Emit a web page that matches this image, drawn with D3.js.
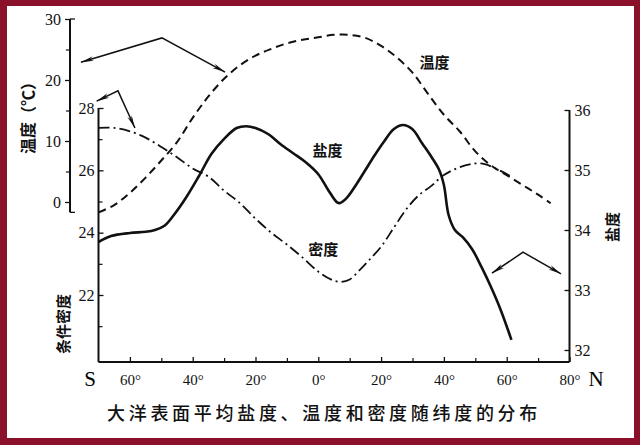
<!DOCTYPE html>
<html><head><meta charset="utf-8">
<script src="https://cdn.jsdelivr.net/npm/d3@7/dist/d3.min.js"></script>
<style>
html,body{margin:0;padding:0;background:#fff;}
svg{display:block;}
.tk text{font-family:"Liberation Serif","DejaVu Serif",serif;font-size:16px;fill:#111;}
.cjk{font-family:"Noto Sans CJK SC",sans-serif;fill:#111;}
</style></head>
<body>
<script>
// ---- data ----
const tempLat = [-70,-65,-60,-55,-50,-45,-40,-35,-30,-25,-20,-15,-10,-5,0,5,10,15,20,25,30,35,40,45,50,55,60,65,70,74];
const tempVal = [-1.7,-0.5,1.5,4.0,6.8,9.8,13.8,17.3,20.2,22.4,24.0,25.1,26.0,26.6,27.0,27.4,27.4,26.9,25.6,23.7,21.2,17.7,14.3,11.6,8.3,6.0,4.4,2.8,1.2,-0.2];

const salLat = [-70,-66,-60,-55,-52,-49,-46,-42,-38,-34,-30,-26,-23,-20,-16,-12,-8,-4,0,3,6,7,9,12,15,18,21,24,27,30,33,36,38.5,40,41.5,43.5,46,49,52,55,58,61.5];
const salVal = [33.8,33.9,33.95,33.97,34.0,34.07,34.25,34.55,34.9,35.27,35.52,35.7,35.73,35.7,35.6,35.43,35.28,35.13,34.93,34.68,34.46,34.45,34.53,34.75,35.0,35.25,35.48,35.68,35.75,35.68,35.45,35.22,35.0,34.75,34.25,34.0,33.88,33.68,33.38,33.05,32.68,32.17];

const denLat = [-70,-65,-60,-55,-50,-45,-40,-35,-30,-25,-20,-15,-10,-5,0,4,7,10,13,16,20,24,28,32,36,40,45,50,53,56,60,62];
const denVal = [27.36,27.36,27.25,27.05,26.75,26.42,26.06,25.8,25.35,24.95,24.45,24.0,23.62,23.2,22.75,22.5,22.42,22.5,22.78,23.1,23.55,24.15,24.75,25.2,25.5,25.85,26.1,26.22,26.2,26.08,25.88,25.75];

const xMajor = [-60,-40,-20,0,20,40,60,80];
const xMajorLabels = ["60°","40°","20°","0°","20°","40°","60°","80°"];
const xMinor = [-50,-30,-10,10,30,50,70];
const tempTicks = [0,10,20,30];
const tempMinor = [5,15,25];
const denTicks = [22,24,26,28];
const denMinor = [21,23,25,27];
const salTicks = [32,33,34,35,36];

const title = "大洋表面平均盐度、温度和密度随纬度的分布";
const tempTitle = "温度（℃）";
const denTitle = "条件密度";
const salTitle = "盐度";
const seriesNames = {temp:"温度", sal:"盐度", den:"密度"};

// annotation arrows (in data coordinates of their axes)
const arrowTemp = [[-75.6,22.9],[-49.8,26.9],[-29.7,21.3]];
const arrowDen = [[-70.6,28.22],[-63.8,28.55],[-58.4,27.36]];
const arrowSal = [[55.3,33.28],[65.2,33.63],[77.3,33.27]];

// ---- layout ----
const W = 640, H = 445;
const svg = d3.select("body").append("svg").attr("width",W).attr("height",H);
svg.append("rect").attr("width",W).attr("height",H).attr("fill","#8b1029");
svg.append("rect").attr("x",7).attr("y",6).attr("width",627).attr("height",432).attr("fill","#fff");

const x = d3.scaleLinear().domain([-70,80]).range([98.5,569.5]);
const yT = d3.scaleLinear().domain([0,30]).range([202,19]);
const yD = d3.scaleLinear().domain([22,28]).range([295,108]);
const yS = d3.scaleLinear().domain([32,36]).range([350,110]);
const baseY = 362;
const fmt = d3.format("d");

// defs: arrow marker
const defs = svg.append("defs");
defs.append("marker").attr("id","arr").attr("viewBox","-14 -3 15 6")
  .attr("refX",0).attr("refY",0).attr("markerWidth",15).attr("markerHeight",6)
  .attr("markerUnits","userSpaceOnUse").attr("orient","auto-start-reverse")
  .append("path").attr("d","M0,0 L-13,-2.4 L-9,0 L-13,2.4 Z").attr("fill","#111");

const g = svg.append("g");

// x axis
g.append("line").attr("x1",x(-70)).attr("x2",x(80)).attr("y1",baseY).attr("y2",baseY)
  .attr("stroke","#111").attr("stroke-width",2);
const xa = g.append("g").attr("class","tk").attr("transform",`translate(0,${baseY})`)
  .call(d3.axisBottom(x).tickValues(xMajor).tickSizeInner(-5).tickSizeOuter(0).tickPadding(9)
  .tickFormat((d,i)=>xMajorLabels[i]));
xa.select(".domain").remove();
xa.selectAll("line").attr("stroke","#111").attr("stroke-width",1.3);
xa.selectAll("text").attr("dy","0.9em").style("font-size","15px");
g.append("g").attr("transform",`translate(0,${baseY})`)
  .call(d3.axisBottom(x).tickValues(xMinor).tickSizeInner(-4).tickSizeOuter(0).tickFormat(""))
  .call(s=>{s.select(".domain").remove();s.selectAll("line").attr("stroke","#111").attr("stroke-width",1.2);});
g.append("text").attr("x",90).attr("y",386).attr("text-anchor","middle")
  .style("font-family","Liberation Serif, serif").style("font-size","21px").text("S");
g.append("text").attr("x",596).attr("y",386).attr("text-anchor","middle")
  .style("font-family","Liberation Serif, serif").style("font-size","21px").text("N");

// temperature axis (outer left)
const xT = 70;
g.append("line").attr("x1",xT).attr("x2",xT).attr("y1",yT(30)).attr("y2",yT(-1.7))
  .attr("stroke","#111").attr("stroke-width",2);
const ta = g.append("g").attr("class","tk").attr("transform",`translate(${xT},0)`)
  .call(d3.axisLeft(yT).tickValues(tempTicks).tickFormat(fmt).tickSizeInner(5).tickSizeOuter(0).tickPadding(4));
ta.select(".domain").remove();
ta.selectAll("line").attr("stroke","#111").attr("stroke-width",1.3);
g.append("g").attr("transform",`translate(${xT},0)`)
  .call(d3.axisLeft(yT).tickValues(tempMinor).tickSizeInner(4).tickSizeOuter(0).tickFormat(""))
  .call(s=>{s.select(".domain").remove();s.selectAll("line").attr("stroke","#111").attr("stroke-width",1.2);});
g.append("line").attr("x1",xT).attr("x2",xT+5).attr("y1",yT(30)).attr("y2",yT(30)).attr("stroke","#111").attr("stroke-width",1.3);
g.append("line").attr("x1",xT).attr("x2",xT+5).attr("y1",yT(-1.7)).attr("y2",yT(-1.7)).attr("stroke","#111").attr("stroke-width",1.3);

// density axis (inner left)
const xD = x(-70);
g.append("line").attr("x1",xD).attr("x2",xD).attr("y1",yD(28)).attr("y2",baseY)
  .attr("stroke","#111").attr("stroke-width",2);
const da = g.append("g").attr("class","tk").attr("transform",`translate(${xD},0)`)
  .call(d3.axisLeft(yD).tickValues(denTicks).tickFormat(fmt).tickSizeInner(-5).tickSizeOuter(0).tickPadding(4));
da.select(".domain").remove();
da.selectAll("line").attr("stroke","#111").attr("stroke-width",1.3);
g.append("g").attr("transform",`translate(${xD},0)`)
  .call(d3.axisLeft(yD).tickValues(denMinor).tickSizeInner(-4).tickSizeOuter(0).tickFormat(""))
  .call(s=>{s.select(".domain").remove();s.selectAll("line").attr("stroke","#111").attr("stroke-width",1.2);});

// salinity axis (right)
const xS = x(80);
g.append("line").attr("x1",xS).attr("x2",xS).attr("y1",yS(36)).attr("y2",baseY)
  .attr("stroke","#111").attr("stroke-width",2);
const sa = g.append("g").attr("class","tk").attr("transform",`translate(${xS},0)`)
  .call(d3.axisRight(yS).tickValues(salTicks).tickFormat(fmt).tickSizeInner(-5).tickSizeOuter(0).tickPadding(5));
sa.select(".domain").remove();
sa.selectAll("line").attr("stroke","#111").attr("stroke-width",1.3);

// curves
const lineT = d3.line().x((d,i)=>x(tempLat[i])).y(d=>yT(d)).curve(d3.curveCatmullRom);
const lineS = d3.line().x((d,i)=>x(salLat[i])).y(d=>yS(d)).curve(d3.curveCatmullRom);
const lineD = d3.line().x((d,i)=>x(denLat[i])).y(d=>yD(d)).curve(d3.curveCatmullRom);

g.append("path").attr("d",lineD(denVal)).attr("fill","none").attr("stroke","#111")
  .attr("stroke-width",1.8).attr("stroke-dasharray","11 4 2 4");
g.append("path").attr("d",lineT(tempVal)).attr("fill","none").attr("stroke","#111")
  .attr("stroke-width",2).attr("stroke-dasharray","8 5");
g.append("path").attr("d",lineS(salVal)).attr("fill","none").attr("stroke","#111")
  .attr("stroke-width",2.6).attr("stroke-linejoin","round");

// arrows
const arrowLine = (pts, ys) => d3.line().x(d=>x(d[0])).y(d=>ys(d[1]))(pts);
[[arrowTemp,yT],[arrowDen,yD],[arrowSal,yS]].forEach(([pts,ys])=>{
  g.append("path").attr("d",arrowLine(pts,ys)).attr("fill","none").attr("stroke","#111")
    .attr("stroke-width",1.5).attr("marker-start","url(#arr)").attr("marker-end","url(#arr)");
});

// series labels
const lab = (t,px,py)=>g.append("text").attr("class","cjk").attr("x",px).attr("y",py)
  .attr("text-anchor","middle").attr("dominant-baseline","central")
  .style("font-size","15px").style("font-weight","700").text(t);
lab(seriesNames.temp, x(37), yT(23.1));
lab(seriesNames.sal, x(2.9), yS(35.35));
lab(seriesNames.den, x(1.6), yD(23.5));

// axis titles (rotated)
const vt = (t,px,py,fs)=>g.append("text").attr("class","cjk")
  .attr("transform",`translate(${px},${py}) rotate(-90)`)
  .attr("text-anchor","middle").attr("dominant-baseline","central")
  .style("font-size",fs).style("font-weight","700").text(t);
vt(tempTitle, 27, 114, "16px");
vt(denTitle, 62, 324, "15px");
vt(salTitle, 611, 227, "15px");

// title
g.append("text").attr("class","cjk").attr("x",107).attr("y",412)
  .attr("dominant-baseline","central").style("font-size","18px")
  .style("letter-spacing","3.7px").style("font-weight","500").text(title);
</script>
</body></html>
